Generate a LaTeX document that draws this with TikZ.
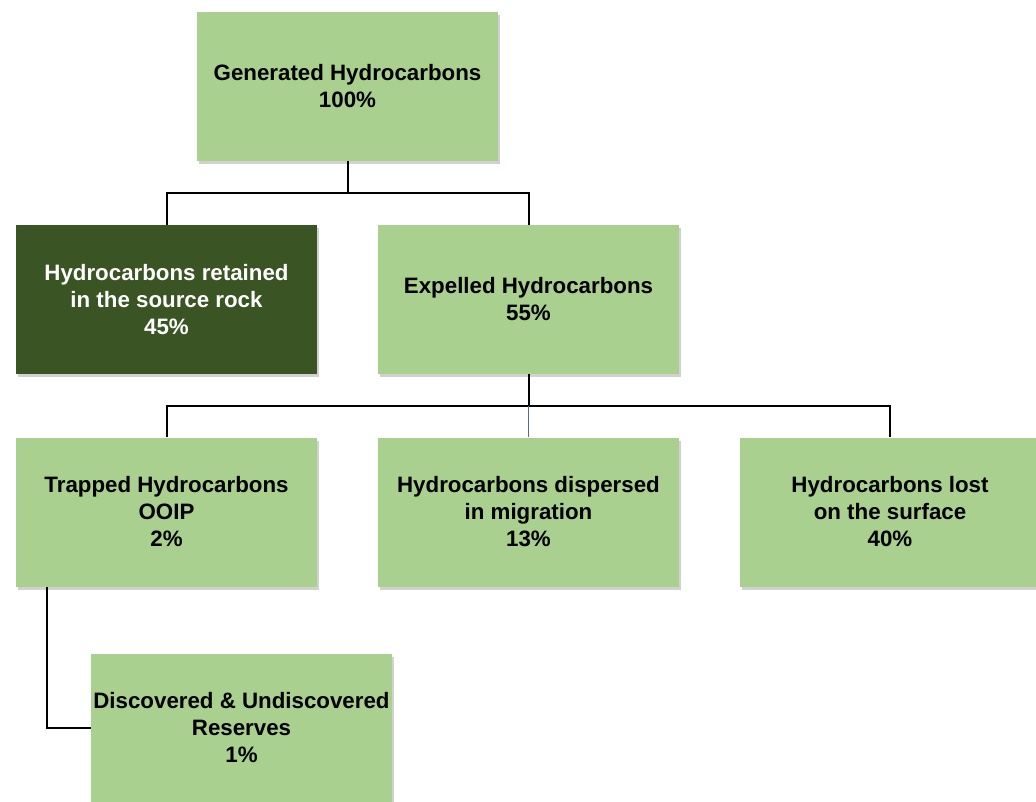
\documentclass[tikz,border=0pt]{standalone}
\usepackage{fontspec}
\setmainfont{Liberation Sans}
\usetikzlibrary{shadows}
\definecolor{lightg}{RGB}{169,208,142}
\definecolor{darkg}{RGB}{58,84,35}
\definecolor{bluel}{RGB}{80,110,140}
\tikzset{
  box/.style={rectangle, fill=lightg, minimum width=301pt, minimum height=149pt,
    inner sep=0pt, align=center, font=\bfseries\fontsize{22.3pt}{27pt}\selectfont,
    drop shadow={shadow xshift=2pt, shadow yshift=-3pt, opacity=0.3, fill=black!60}},
  darkbox/.style={box, fill=darkg, text=white},
  conn/.style={draw=black, line width=2pt}
}
\begin{document}
\begin{tikzpicture}[x=1pt,y=-1pt]
\useasboundingbox (0,0) rectangle (1036,802);
\node[box] (gen) at (347.5,86.5) {Generated Hydrocarbons\\100\%};
\node[darkbox] (ret) at (166.5,299.5) {Hydrocarbons retained\\in the source rock\\45\%};
\node[box] (exp) at (528.5,299.5) {Expelled Hydrocarbons\\55\%};
\node[box] (trap) at (166.5,512) {Trapped Hydrocarbons\\OOIP\\2\%};
\node[box] (disp) at (528.5,512) {Hydrocarbons dispersed\\in migration\\13\%};
\node[box] (lost) at (890,512) {Hydrocarbons lost\\on the surface\\40\%};
\node[box] (disc) at (241.5,728) {Discovered \& Undiscovered\\Reserves\\1\%};
\coordinate (b1) at (0,193);
\coordinate (b2) at (0,406);
\coordinate (t1) at (47,0);
\draw[conn] (gen.south) -- (gen.south |- b1);
\draw[conn] (ret.north) -- (ret.north |- b1) -| (exp.north);
\draw[conn] (exp.south) -- (exp.south |- b2);
\draw[conn] (trap.north) -- (trap.north |- b2) -| (lost.north);
\draw[draw=bluel, line width=1.5pt] (disp.north |- b2) -- (disp.north);
\draw[conn] (trap.south -| t1) |- (disc.west);
\end{tikzpicture}
\end{document}
